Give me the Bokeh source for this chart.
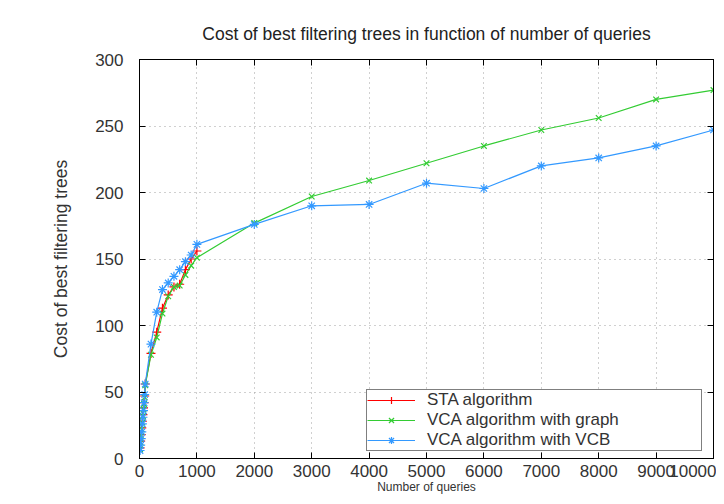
from bokeh.plotting import figure
from bokeh.models import (LinearAxis, Range1d, Legend, LegendItem, FixedTicker,
                          Title)
from bokeh.embed import file_html
from bokeh.resources import INLINE

# ---- data ----
x_sta = [10, 20, 30, 40, 50, 60, 70, 80, 90, 100,
         200, 300, 400, 500, 600, 700, 800, 900, 1000]
sta = [8, 13, 18, 23, 28, 33, 38, 42, 47, 56,
       79, 95, 113, 123, 129, 131, 142, 150, 156]

x_vca = [10, 20, 30, 40, 50, 60, 70, 80, 90, 100,
         200, 300, 400, 500, 600, 700, 800, 900, 1000,
         2000, 3000, 4000, 5000, 6000, 7000, 8000, 9000, 10000]
vca_graph = [7, 12, 17, 22, 27, 32, 37, 41, 46, 55,
             78, 91, 109, 122, 129, 130, 138, 145, 151,
             177, 197, 209, 222, 235, 247, 256, 270, 277]
vca_vcb = [6, 10, 15, 20, 26, 31, 36, 42, 48, 56,
           86, 110, 127, 132, 137, 142, 148, 153, 161,
           176, 190, 191, 207, 203, 220, 226, 235, 247]

x_ticks = [0, 1000, 2000, 3000, 4000, 5000, 6000, 7000, 8000, 9000, 10000]
y_ticks = [0, 50, 100, 150, 200, 250, 300]

title_text = "Cost of best filtering trees in function of number of queries"
x_label = "Number of queries"
y_label = "Cost of best filtering trees"
names = ["STA algorithm", "VCA algorithm with graph", "VCA algorithm with VCB"]
colors = ["#ff0000", "#33cc33", "#3399ff"]

FONT = "Liberation Sans"

p = figure(width=716, height=496, output_backend="svg", toolbar_location=None,
           x_range=Range1d(0, 10000), y_range=Range1d(0, 300),
           min_border_left=139, min_border_right=3,
           min_border_top=59, min_border_bottom=38)
p.title = Title(text=title_text, align="center", text_font=FONT,
                text_font_size="17.5px", text_font_style="normal",
                text_color="#222222", standoff=32)

p.outline_line_color = "black"
p.outline_line_width = 1
p.background_fill_color = "white"
p.border_fill_color = "white"

for ax in (p.xaxis[0], p.yaxis[0]):
    ax.major_label_text_font = FONT
    ax.major_label_text_font_size = "17px"
    ax.major_label_text_color = "#333333"
    ax.axis_label_text_font = FONT
    ax.axis_label_text_font_size = "17.5px"
    ax.axis_label_text_font_style = "normal"
    ax.axis_label_text_color = "#333333"
    ax.major_tick_in = 6
    ax.major_tick_out = 0
    ax.minor_tick_line_color = None
    ax.axis_line_color = "black"
    ax.major_tick_line_color = "black"

p.xaxis[0].ticker = FixedTicker(ticks=x_ticks)
p.yaxis[0].ticker = FixedTicker(ticks=y_ticks)
p.xaxis[0].axis_label = x_label
p.yaxis[0].axis_label = y_label
p.xaxis[0].major_label_standoff = 6
p.xaxis[0].axis_label_standoff = 0
p.xaxis[0].axis_label_text_font_size = "12px"
p.yaxis[0].major_label_standoff = 16
p.yaxis[0].axis_label_standoff = 21

# mirror axes (ticks only, labels not drawn)
top = LinearAxis(ticker=FixedTicker(ticks=x_ticks), major_label_text_color=None,
                 major_label_text_font_size="1px",
                 major_tick_in=6, major_tick_out=0, minor_tick_line_color=None,
                 major_label_standoff=0)
right = LinearAxis(ticker=FixedTicker(ticks=y_ticks), major_label_text_color=None,
                   major_label_text_font_size="1px",
                   major_tick_in=6, major_tick_out=0, minor_tick_line_color=None,
                   major_label_standoff=0)
p.add_layout(top, "above")
p.add_layout(right, "right")

p.grid.grid_line_color = "#a0a0a0"
p.grid.grid_line_dash = "1 4"
p.grid.grid_line_width = 1
p.xgrid.ticker = FixedTicker(ticks=x_ticks)
p.ygrid.ticker = FixedTicker(ticks=y_ticks)

l1 = p.line(x_sta, sta, line_color=colors[0], line_width=1.2)
m1 = p.scatter(x_sta, sta, marker="cross", size=9, line_color=colors[0], line_width=1.2)
l2 = p.line(x_vca, vca_graph, line_color=colors[1], line_width=1.2)
m2 = p.scatter(x_vca, vca_graph, marker="x", size=8, line_color=colors[1], line_width=1.2)
l3 = p.line(x_vca, vca_vcb, line_color=colors[2], line_width=1.2)
m3 = p.scatter(x_vca, vca_vcb, marker="asterisk", size=9, line_color=colors[2], line_width=1.2)

legend = Legend(items=[LegendItem(label=names[0], renderers=[l1, m1]),
                       LegendItem(label=names[1], renderers=[l2, m2]),
                       LegendItem(label=names[2], renderers=[l3, m3])],
                location=(227, 7), orientation="vertical",
                label_text_font=FONT, label_text_font_size="17px",
                label_text_color="#333333",
                border_line_color="black", border_line_width=1,
                background_fill_color="white", background_fill_alpha=1,
                glyph_width=48, label_height=18, glyph_height=18,
                spacing=0, padding=0, margin=0, label_width=274,
                label_standoff=12)
p.add_layout(legend, "center")

open("out.html", "w").write(file_html(p, INLINE))
